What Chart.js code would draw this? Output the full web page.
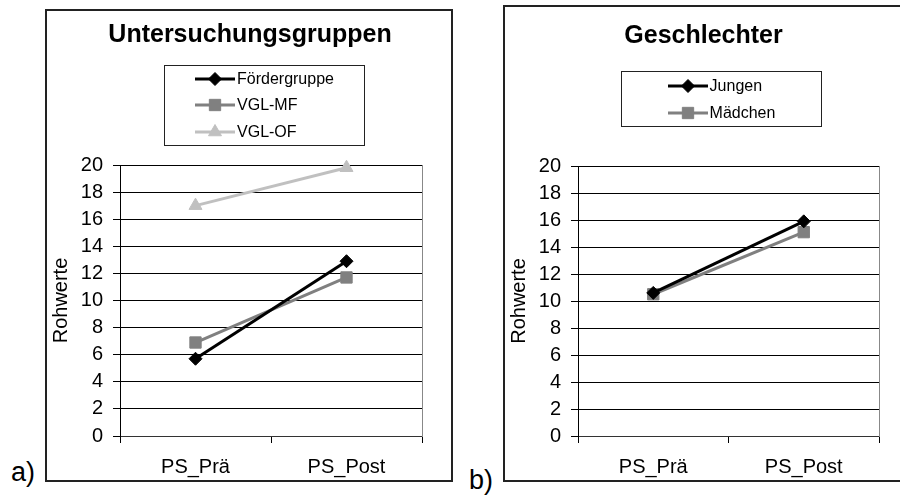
<!DOCTYPE html>
<html>
<head>
<meta charset="utf-8">
<script src="https://cdn.jsdelivr.net/npm/chart.js@4/dist/chart.umd.min.js"></script>
<style>
  html, body { margin: 0; padding: 0; background: #fff; overflow: hidden; }
  body { width: 900px; height: 496px; position: relative; font-family: "Liberation Sans", Arial, sans-serif; }
  .frame { position: absolute; border: 2px solid #222; box-sizing: border-box; }
  canvas.chart { position: absolute; }
  .legend { position: absolute; border: 1px solid #222; box-sizing: border-box; background: #fff; text-align: center; }
  .legend .rows { display: inline-block; text-align: left; }
  .legend .row { display: flex; align-items: center; font-size: 16px; color: #000; }
  .legend canvas { margin-right: 2px; }
  .tag { position: absolute; font-size: 27px; color: #000; }
</style>
</head>
<body>
<div class="frame" style="left:45px; top:9px; width:408px; height:473px;"></div>
<div class="frame" style="left:503px; top:5px; width:420px; height:477px; border-right:none;"></div>
<canvas class="chart" id="chartA" width="404" height="469" style="left:47px; top:11px;"></canvas>
<canvas class="chart" id="chartB" width="395" height="473" style="left:505px; top:7px;"></canvas>
<div class="legend" id="legendA" style="left:164px; top:65px; width:201px; height:81px;"></div>
<div class="legend" id="legendB" style="left:621px; top:71px; width:201px; height:56px;"></div>
<div class="tag" style="left:11px; top:457px;">a)</div>
<div class="tag" style="left:469px; top:465px;">b)</div>
<script>
// Messzeitpunkte
const categories = ["PS_Prä", "PS_Post"];

// a) Untersuchungsgruppen
const foerdergruppe = [5.7, 12.9];
const vglMF = [6.9, 11.7];
const vglOF = [17.0, 19.8];

// b) Geschlechter
const jungen = [10.6, 15.9];
const maedchen = [10.5, 15.1];

const yMin = 0, yMax = 20, yStep = 2;

const FONT = '"Liberation Sans", Arial, sans-serif';

function series(label, data, color, style, radius) {
  return {
    label, data,
    borderColor: color, backgroundColor: color,
    borderWidth: 3, tension: 0, clip: false,
    pointStyle: style, pointRadius: radius, pointHoverRadius: radius,
    pointBackgroundColor: color, pointBorderColor: color, pointBorderWidth: 1,
  };
}

function makeChart(canvasId, title, datasets, opts) {
  return new Chart(document.getElementById(canvasId), {
    type: "line",
    data: { labels: categories, datasets },
    options: {
      responsive: false,
      animation: false,
      devicePixelRatio: 1,
      layout: { padding: { left: 2 } },
      plugins: {
        legend: { display: false },
        tooltip: { enabled: false },
        title: {
          display: true, text: title, color: "#000",
          font: { family: FONT, size: 25, weight: "bold" },
          padding: { top: opts.titleTop, bottom: opts.titleBottom },
        },
      },
      scales: {
        x: {
          offset: true,
          grid: { display: true, drawOnChartArea: false, tickLength: 7, color: "#000", offset: true },
          border: { display: true, color: "#333", width: 1 },
          ticks: { color: "#000", font: { family: FONT, size: 20 }, padding: 12, maxRotation: 0 },
          afterFit: (s) => { s.height = 44; },
        },
        y: {
          min: yMin, max: yMax,
          grid: { color: "#000", tickLength: 7 },
          border: { display: true, color: "#000" },
          ticks: { stepSize: yStep, color: "#000", font: { family: FONT, size: 20 }, padding: 10 },
          title: { display: true, text: "Rohwerte", color: "#000", font: { family: FONT, size: 20 }, padding: 0 },
          afterFit: (s) => { s.width = 71; },
        },
        yRight: {
          position: "right",
          grid: { display: false },
          ticks: { display: false },
          border: { display: true, color: "#888" },
          afterFit: (s) => { s.width = opts.rightWidth; },
        },
      },
    },
  });
}

function drawSymbol(ds) {
  const c = document.createElement("canvas");
  c.width = 40; c.height = 18;
  const ctx = c.getContext("2d");
  ctx.strokeStyle = ds.borderColor;
  ctx.lineWidth = 3;
  ctx.beginPath(); ctx.moveTo(0, 9); ctx.lineTo(40, 9); ctx.stroke();
  ctx.fillStyle = ds.pointBackgroundColor;
  ctx.strokeStyle = ds.pointBorderColor;
  ctx.lineWidth = 1;
  Chart.helpers.drawPoint(ctx, { pointStyle: ds.pointStyle, radius: ds.pointRadius, rotation: 0, borderWidth: 1 }, 20, 9);
  return c;
}

function buildLegend(chart, boxId, rowHeight) {
  const box = document.getElementById(boxId);
  const rows = document.createElement("div");
  rows.className = "rows";
  chart.data.datasets.forEach((ds) => {
    const row = document.createElement("div");
    row.className = "row";
    row.style.height = rowHeight + "px";
    row.appendChild(drawSymbol(ds));
    const t = document.createElement("span");
    t.textContent = ds.label;
    row.appendChild(t);
    rows.appendChild(row);
  });
  box.appendChild(rows);
}

const chartA = makeChart("chartA", "Untersuchungsgruppen", [
  series("Fördergruppe", foerdergruppe, "#000000", "rectRot", 6.5),
  series("VGL-MF", vglMF, "#808080", "rect", 8),
  series("VGL-OF", vglOF, "#c0c0c0", "triangle", 7.5),
], { titleTop: 9, titleBottom: 115, rightWidth: 29 });

const chartB = makeChart("chartB", "Geschlechter", [
  series("Jungen", jungen, "#000000", "rectRot", 6.5),
  series("Mädchen", maedchen, "#808080", "rect", 8),
], { titleTop: 14, titleBottom: 115, rightWidth: 21 });

buildLegend(chartA, "legendA", 26.3);
buildLegend(chartB, "legendB", 27);
</script>
</body>
</html>
